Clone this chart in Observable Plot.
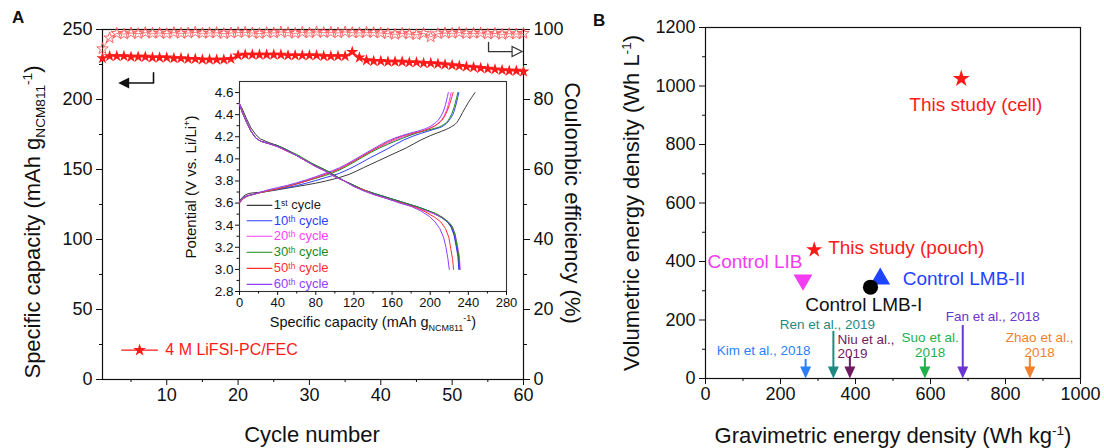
<!DOCTYPE html>
<html><head><meta charset="utf-8">
<script src="https://cdn.jsdelivr.net/npm/d3@7"></script>
<script src="https://cdn.jsdelivr.net/npm/@observablehq/plot@0.6"></script>
<style>
body{margin:0;background:#fff;}
#root{position:relative;width:1104px;height:448px;overflow:hidden;background:#fff;font-family:"Liberation Sans",Arial,Helvetica,sans-serif;color:#111;}
#root svg{position:absolute;left:0;top:0;}
.t{position:absolute;white-space:nowrap;font-size:22px;line-height:1;}
.rl{transform:translate(-50%,-50%) rotate(-90deg);}
.rr{transform:translate(-50%,-50%) rotate(90deg);}
.c{transform:translate(-50%,-50%);}
.t sub,.t sup{font-size:62%;line-height:0;}
.pl{position:absolute;font-weight:bold;font-size:17px;}
</style></head>
<body><div id="root"></div>
<script>
// ---------------- Panel A data ----------------
const cycles = d3.range(1, 61);
const capacity = [229.5,
 231,231,231,230.5,230.5,230.5,230,230,230,
 229.5,229.5,229,229,228.5,228.5,228.5,228.5,229,
 231.5,232,232,232,232,232,232,231.5,231.5,231.5,231.5,231.5,231,231,231,231,
 234,230,
 228,227.5,227.5,227,227,227,226.5,226.5,226,226,225.5,
 225,224.5,224,223.5,223,222.5,222,221.5,221,220.5,220.5,220];
const coulombic = [94.5,97.6,98.9,98.7,99.0,98.8,99.1,98.9,99.0,98.8,
 99.1,98.9,99.0,99.2,98.9,99.0,99.1,98.8,99.0,99.1,
 99.2,99.0,98.8,99.1,99.0,99.3,99.1,98.9,99.2,99.0,
 99.3,99.1,99.2,99.0,99.3,99.1,99.0,99.2,99.1,99.0,
 98.8,98.6,98.9,98.7,98.5,98.9,97.9,98.8,99.0,98.9,
 99.1,98.8,98.9,99.0,98.7,98.9,98.6,98.8,98.7,98.9];
const cycleTicks = [10,20,30,40,50,60];
const cycleMinor = [5,15,25,35,45,55];
const capTicks = [0,50,100,150,200,250];
const capMinor = [25,75,125,175,225];
const ceTicks = [0,20,40,60,80,100];
const ceMinor = [10,30,50,70,90];
const seriesName = "4 M LiFSI-PC/FEC";

// ---------------- Inset data (capacity mAh/g, potential V) ----------------
const insetCycles = ["1^{st} cycle","10^{th} cycle","20^{th} cycle","30^{th} cycle","50^{th} cycle","60^{th} cycle"];
const charge1 = [[0,3.62],[4,3.66],[12,3.69],[25,3.70],[40,3.72],[60,3.75],[80,3.78],[100,3.82],[115,3.86],[130,3.92],[145,3.98],[160,4.04],[175,4.10],[190,4.17],[200,4.21],[212,4.25],[222,4.29],[228,4.33],[234,4.42],[240,4.51],[247,4.60]];
const charge10 = [[0,3.60],[4,3.64],[15,3.68],[30,3.71],[50,3.74],[70,3.78],[90,3.83],[105,3.87],[120,3.93],[137,4.01],[155,4.09],[172,4.17],[190,4.23],[205,4.27],[214,4.30],[220,4.35],[225,4.43],[230,4.60]];
const charge20 = [[0,3.61],[4,3.65],[15,3.68],[30,3.71],[50,3.75],[70,3.80],[90,3.86],[105,3.91],[120,3.98],[138,4.07],[155,4.14],[172,4.20],[188,4.24],[200,4.28],[208,4.32],[214,4.38],[218,4.46],[222,4.60]];
const charge30 = [[0,3.61],[4,3.65],[15,3.68],[30,3.71],[50,3.75],[70,3.80],[90,3.85],[105,3.90],[120,3.97],[138,4.06],[155,4.13],[172,4.19],[188,4.24],[202,4.27],[212,4.30],[219,4.35],[224,4.44],[229,4.60]];
const charge50 = [[0,3.60],[4,3.64],[15,3.68],[30,3.71],[50,3.75],[70,3.80],[90,3.86],[105,3.91],[120,3.98],[138,4.07],[155,4.15],[172,4.21],[186,4.24],[198,4.27],[207,4.31],[214,4.37],[219,4.46],[224,4.60]];
const charge60 = [[0,3.61],[4,3.65],[15,3.68],[30,3.72],[50,3.76],[70,3.81],[90,3.87],[105,3.92],[120,3.99],[138,4.08],[155,4.16],[170,4.21],[182,4.24],[194,4.27],[203,4.31],[210,4.37],[215,4.46],[219,4.60]];
const discharge1 = [[0,4.50],[3,4.45],[7,4.37],[12,4.28],[17,4.22],[22,4.18],[30,4.15],[40,4.12],[50,4.08],[60,4.03],[70,3.98],[80,3.94],[90,3.90],[100,3.85],[110,3.80],[120,3.76],[130,3.72],[140,3.69],[155,3.65],[170,3.61],[185,3.57],[195,3.54],[205,3.50],[212,3.47],[218,3.43],[222,3.39],[225,3.32],[227.5,3.22],[229.5,3.12],[230.5,3.00]];
const discharge10 = [[0,4.49],[3,4.42],[7,4.34],[12,4.25],[17,4.19],[22,4.16],[30,4.14],[40,4.12],[50,4.08],[60,4.03],[70,3.98],[80,3.94],[90,3.89],[100,3.84],[110,3.80],[120,3.76],[130,3.72],[140,3.69],[155,3.65],[170,3.61],[185,3.57],[195,3.54],[205,3.50],[212,3.47],[218,3.43],[222,3.38],[225,3.31],[227,3.22],[229,3.12],[230,3.00]];
const discharge20 = [[0,4.50],[3,4.42],[7,4.34],[12,4.25],[17,4.19],[22,4.16],[30,4.14],[40,4.11],[50,4.07],[60,4.03],[70,3.98],[80,3.93],[90,3.89],[100,3.84],[110,3.80],[120,3.75],[130,3.72],[140,3.68],[155,3.64],[170,3.60],[185,3.56],[195,3.53],[205,3.50],[213,3.47],[219,3.43],[223,3.39],[226,3.32],[228.5,3.22],[230.5,3.12],[231.5,3.00]];
const discharge30 = [[0,4.50],[3,4.42],[7,4.34],[12,4.25],[17,4.19],[22,4.16],[30,4.14],[40,4.12],[50,4.08],[60,4.04],[70,3.99],[80,3.94],[90,3.90],[100,3.85],[110,3.80],[120,3.76],[130,3.72],[140,3.69],[155,3.65],[170,3.61],[185,3.57],[195,3.54],[205,3.51],[213,3.47],[219,3.43],[223,3.39],[226,3.32],[228,3.22],[230,3.12],[231,3.00]];
const discharge50 = [[0,4.50],[3,4.42],[7,4.34],[12,4.25],[17,4.19],[22,4.16],[30,4.14],[40,4.11],[50,4.07],[60,4.03],[70,3.98],[80,3.93],[90,3.89],[100,3.84],[110,3.80],[120,3.75],[130,3.72],[140,3.68],[155,3.64],[170,3.60],[185,3.56],[195,3.52],[205,3.47],[211,3.43],[216,3.37],[219.5,3.29],[221.5,3.19],[223.5,3.09],[224.5,3.00]];
const discharge60 = [[0,4.50],[3,4.42],[7,4.34],[12,4.25],[17,4.19],[22,4.16],[30,4.14],[40,4.11],[50,4.07],[60,4.03],[70,3.98],[80,3.93],[90,3.89],[100,3.84],[110,3.80],[120,3.75],[130,3.71],[140,3.68],[155,3.64],[168,3.60],[180,3.57],[190,3.53],[199,3.48],[205,3.43],[210,3.37],[214,3.29],[216.5,3.20],[218.5,3.10],[220,3.00]];
const insetCapTicks = [0,40,80,120,160,200,240,280];
const insetCapMinor = [20,60,100,140,180,220,260];
const insetVTicks = [2.8,3.0,3.2,3.4,3.6,3.8,4.0,4.2,4.4,4.6];
const insetVMinor = [2.9,3.1,3.3,3.5,3.7,3.9,4.1,4.3,4.5];

// ---------------- Panel B data ----------------
const pointNames = ["This study (cell)","This study (pouch)","Control LIB","Control LMB-I","Control LMB-II"];
const pointGrav = [682, 290, 260, 440, 466];
const pointVol = [1025, 440, 337, 312, 341];
const refNames = ["Kim et al., 2018","Ren et al., 2019","Niu et al.,\n2019","Suo et al.\n2018","Fan et al., 2018","Zhao et al.,\n2018"];
const refGrav = [267, 341, 385, 585, 686, 865];
const gravTicks = [0,200,400,600,800,1000];
const gravMinor = [100,300,500,700,900];
const volTicks = [0,200,400,600,800,1000,1200];
const volMinor = [100,300,500,700,900,1100];

// ---------------- styling / annotation layout (not data) ----------------
const FONT = '"Liberation Sans", Arial, Helvetica, sans-serif';
const W = 1104, H = 448;
const RED = "#ff1a1a", RED_LIGHT = "#ff5a5a", INK = "#111";
const insetColors = ["#3a3a3a","#2f3dff","#ff40ff","#1a8c1a","#ff3030","#9040ff"];
const insetText = ["#222","#2f3dff","#ff40ff","#1a8c1a","#ff3030","#9040ff"];
const pointColors = [RED, RED, "#f23cf2", "#000", "#1f44ff"];
const pointLabelColors = [RED, RED, "#f23cf2", "#111", "#1f44ff"];
const refColors = ["#2a7fff","#1f8a84","#6e1b62","#21b14b","#6b35d0","#f2802e"];
const frameA = {left:102, right:523, top:29, bottom:379};
const frameI = {left:239, right:506, top:81, bottom:291};
const frameB = {left:705, right:1080, top:27, bottom:378};
// annotation anchors, in each panel's data units
const legendA = {x1:3.7, x2:8.7, xs:6.2, xt:9.8, y:21};
const arrowLeft = {xv:8.15, yTop:219, yBot:211.8, xTip:3.2};
const arrowRight = {xv:55.1, yTop:96.3, yBot:93.7, xTip:59.8};
const insetLegend = {x1:8, x2:34, xt:36, y:[3.58,3.44,3.30,3.155,3.01,2.865]};
const refArrowTop = [65, 161, 75, 70, 181, 72];
const pointLabelX = [721, 327, 132, 422, 526];
const pointLabelY = [936, 446, 397, 250, 340];
const pointLabelAnchor = ["middle","start","middle","middle","start"];
const refLabelX = [155, 325, 352, 599, 766, 891];
const refLabelY = [98, 187, 110, 114, 212, 114];
const refLabelAnchor = ["middle","middle","start","middle","middle","middle"];

function box(f){
  return {width:W, height:H, marginLeft:f.left, marginRight:W-f.right, marginTop:f.top, marginBottom:H-f.bottom,
    style:{background:"transparent", fontFamily:FONT, fontSize:"18px", color:INK, overflow:"visible"}};
}
const blank = () => "";
const plain = d => String(d);
// custom arrowhead symbols, tip at the origin
const headLeft = {draw(ctx){ctx.moveTo(0,0);ctx.lineTo(11,-5.5);ctx.lineTo(11,5.5);ctx.closePath();}};
const headRight = {draw(ctx){ctx.moveTo(0,0);ctx.lineTo(-10,-5);ctx.lineTo(-10,5);ctx.closePath();}};
const headDown = {draw(ctx){ctx.moveTo(0,0);ctx.lineTo(-5.5,-12);ctx.lineTo(5.5,-12);ctx.closePath();}};

const root = document.getElementById("root");

// ---------------- Panel A: capacity (left axis) ----------------
const capRows = cycles.map((c,i) => ({c, v:capacity[i]}));
const ceRows = cycles.map((c,i) => ({c, v:coulombic[i]}));
const plotCap = Plot.plot({...box(frameA),
  x:{domain:[1,60]}, y:{domain:[0,250]},
  marks:[
    Plot.frame({stroke:INK, strokeWidth:1.2}),
    Plot.axisX(cycleTicks, {tickSize:6, tickPadding:3, label:null, fontSize:18, tickFormat:plain}),
    Plot.axisX(cycleMinor, {tickSize:3, tickFormat:blank, label:null}),
    Plot.axisY(capTicks, {tickSize:6, tickPadding:4, label:null, fontSize:18, tickFormat:plain}),
    Plot.axisY(capMinor, {tickSize:3, tickFormat:blank, label:null}),
    Plot.line(capRows, {x:"c", y:"v", stroke:RED, strokeWidth:1.2}),
    Plot.dot(capRows, {x:"c", y:"v", symbol:"star", r:3.8, fill:RED, stroke:"none"}),
    Plot.line([[legendA.x1,legendA.y],[legendA.x2,legendA.y]], {stroke:RED, strokeWidth:1.3}),
    Plot.dot([[legendA.xs,legendA.y]], {symbol:"star", r:4, fill:RED, stroke:"none"}),
    Plot.text([seriesName], {x:legendA.xt, y:legendA.y, text:d=>d, textAnchor:"start", fill:RED, fontSize:16}),
    Plot.line([[arrowLeft.xv,arrowLeft.yTop],[arrowLeft.xv,arrowLeft.yBot],[arrowLeft.xTip+1.2,arrowLeft.yBot]], {stroke:INK, strokeWidth:1.6}),
    Plot.dot([[arrowLeft.xTip,arrowLeft.yBot]], {symbol:headLeft, r:1, fill:INK, stroke:"none"})
  ]});
root.append(plotCap);

// ---------------- Panel A: coulombic efficiency (right axis) ----------------
const plotCE = Plot.plot({...box(frameA),
  x:{domain:[1,60], axis:null}, y:{domain:[0,100]},
  marks:[
    Plot.axisY(ceTicks, {anchor:"right", tickSize:6, tickPadding:4, label:null, fontSize:18, tickFormat:plain}),
    Plot.axisY(ceMinor, {anchor:"right", tickSize:3, tickFormat:blank, label:null}),
    Plot.line(ceRows, {x:"c", y:"v", stroke:RED_LIGHT, strokeWidth:0.8}),
    Plot.dot(ceRows, {x:"c", y:"v", symbol:"star", r:3.6, fill:"none", stroke:RED_LIGHT, strokeWidth:0.9}),
    Plot.line([[arrowRight.xv,arrowRight.yTop],[arrowRight.xv,arrowRight.yBot],[arrowRight.xTip-1.2,arrowRight.yBot]], {stroke:"#333", strokeWidth:1.3}),
    Plot.dot([[arrowRight.xTip,arrowRight.yBot]], {symbol:headRight, r:1, fill:"#fff", stroke:"#333", strokeWidth:1.2})
  ]});
root.append(plotCE);

// ---------------- Inset ----------------
const charges = [charge1, charge10, charge20, charge30, charge50, charge60];
const discharges = [discharge1, discharge10, discharge20, discharge30, discharge50, discharge60];
const insetMarks = [
  Plot.frame({stroke:"#333", strokeWidth:1.1}),
  Plot.axisX(insetCapTicks, {tickSize:4, tickPadding:2, label:null, fontSize:13, tickFormat:plain}),
  Plot.axisX(insetCapMinor, {tickSize:2.5, tickFormat:blank, label:null}),
  Plot.axisY(insetVTicks, {tickSize:4, tickPadding:2, label:null, fontSize:13.5, tickFormat:d=>d.toFixed(1)}),
  Plot.axisY(insetVMinor, {tickSize:2.5, tickFormat:blank, label:null})
];
charges.forEach((s,i) => insetMarks.push(Plot.line(s, {curve:"monotone-x", stroke:insetColors[i], strokeWidth:1})));
discharges.forEach((s,i) => insetMarks.push(Plot.line(s, {curve:"linear", stroke:insetColors[i], strokeWidth:1})));
insetCycles.forEach((name,i) => {
  const y = insetLegend.y[i];
  insetMarks.push(Plot.line([[insetLegend.x1,y],[insetLegend.x2,y]], {stroke:insetColors[i], strokeWidth:1.2}));
  insetMarks.push(Plot.text([name], {x:insetLegend.xt, y, text:d=>d, textAnchor:"start", fill:insetText[i], fontSize:13}));
});
const plotInset = Plot.plot({...box(frameI), x:{domain:[0,280]}, y:{domain:[2.8,4.7]}, marks:insetMarks});
root.append(plotInset);

// ---------------- Panel B ----------------
const pts = pointNames.map((n,i) => ({n, g:pointGrav[i], v:pointVol[i]}));
const refs = refNames.map((n,i) => ({n, g:refGrav[i], top:refArrowTop[i]}));
const bMarks = [
  Plot.frame({stroke:INK, strokeWidth:1.2}),
  Plot.axisX(gravTicks, {tickSize:6, tickPadding:3, label:null, fontSize:18, tickFormat:plain}),
  Plot.axisX(gravMinor, {tickSize:3, tickFormat:blank, label:null}),
  Plot.axisY(volTicks, {tickSize:6, tickPadding:4, label:null, fontSize:18, tickFormat:plain}),
  Plot.axisY(volMinor, {tickSize:3, tickFormat:blank, label:null}),
  Plot.dot([pts[0]], {x:"g", y:"v", symbol:"star", r:5.4, fill:pointColors[0], stroke:"none"}),
  Plot.dot([pts[1]], {x:"g", y:"v", symbol:"star", r:5.1, fill:pointColors[1], stroke:"none"}),
  Plot.dot([pts[2]], {x:"g", y:"v", symbol:"triangle", r:7, rotate:180, fill:pointColors[2], stroke:"none"}),
  Plot.dot([pts[4]], {x:"g", y:"v", symbol:"triangle", r:7.3, fill:pointColors[4], stroke:"none"}),
  Plot.dot([pts[3]], {x:"g", y:"v", symbol:"circle", r:7.6, fill:pointColors[3], stroke:"none"})
];
pts.forEach((p,i) => bMarks.push(Plot.text([p.n], {x:pointLabelX[i], y:pointLabelY[i], text:d=>d, textAnchor:pointLabelAnchor[i], fill:pointLabelColors[i], fontSize:19})));
refs.forEach((r,i) => {
  bMarks.push(Plot.ruleX([r], {x:"g", y1:"top", y2:20, stroke:refColors[i], strokeWidth:2}));
  bMarks.push(Plot.dot([r], {x:"g", y:0, symbol:headDown, r:1, fill:refColors[i], stroke:"none"}));
  bMarks.push(Plot.text([r.n], {x:refLabelX[i], y:refLabelY[i], text:d=>d, textAnchor:refLabelAnchor[i], fill:refColors[i], fontSize:13.5, lineHeight:1.1}));
});
const plotB = Plot.plot({...box(frameB), x:{domain:[0,1000]}, y:{domain:[0,1200]}, marks:bMarks});
root.append(plotB);

// rich text: ^{..} superscripts and _{..} subscripts inside SVG text
function richify(svg){
  d3.select(svg).selectAll("text").each(function(){
    const el = this, s = el.textContent;
    if (!/[\^_]\{/.test(s) || el.querySelector("tspan")) return;
    const parts = s.split(/(\^\{[^}]*\}|_\{[^}]*\})/);
    el.textContent = "";
    for (const p of parts){
      if (!p) continue;
      const ts = document.createElementNS("http://www.w3.org/2000/svg","tspan");
      if (p[0] === "^" || p[0] === "_"){
        ts.textContent = p.slice(2,-1);
        ts.setAttribute("baseline-shift", p[0] === "^" ? "40%" : "-25%");
        ts.setAttribute("font-size", "65%");
      } else ts.textContent = p;
      el.appendChild(ts);
    }
  });
}
richify(plotInset);

// ---------------- HTML titles ----------------
function addText(html, cls, x, y, size){
  const d = document.createElement("div");
  d.className = "t " + cls; d.innerHTML = html;
  d.style.left = x + "px"; d.style.top = y + "px";
  if (size) d.style.fontSize = size + "px";
  root.append(d);
}
addText("Specific capacity (mAh g<sub>NCM811</sub><sup>-1</sup>)", "rl", 33, 222);
addText("Coulombic efficiency (%)", "rr", 572, 203);
addText("Cycle number", "c", 312, 435);
addText("Potential (V vs. Li/Li<sup>+</sup>)", "rl", 190, 187, 15);
addText("Specific capacity (mAh g<sub>NCM811</sub><sup>-1</sup>)", "c", 373, 322, 14.5);
addText("Volumetric energy density (Wh L<sup>-1</sup>)", "rl", 632, 203);
addText("Gravimetric energy density (Wh kg<sup>-1</sup>)", "c", 893, 436);
const pa = document.createElement("div"); pa.className="pl"; pa.textContent="A"; pa.style.left="12px"; pa.style.top="8px"; root.append(pa);
const pb = document.createElement("div"); pb.className="pl"; pb.textContent="B"; pb.style.left="593px"; pb.style.top="11px"; root.append(pb);
</script>
</body></html>
